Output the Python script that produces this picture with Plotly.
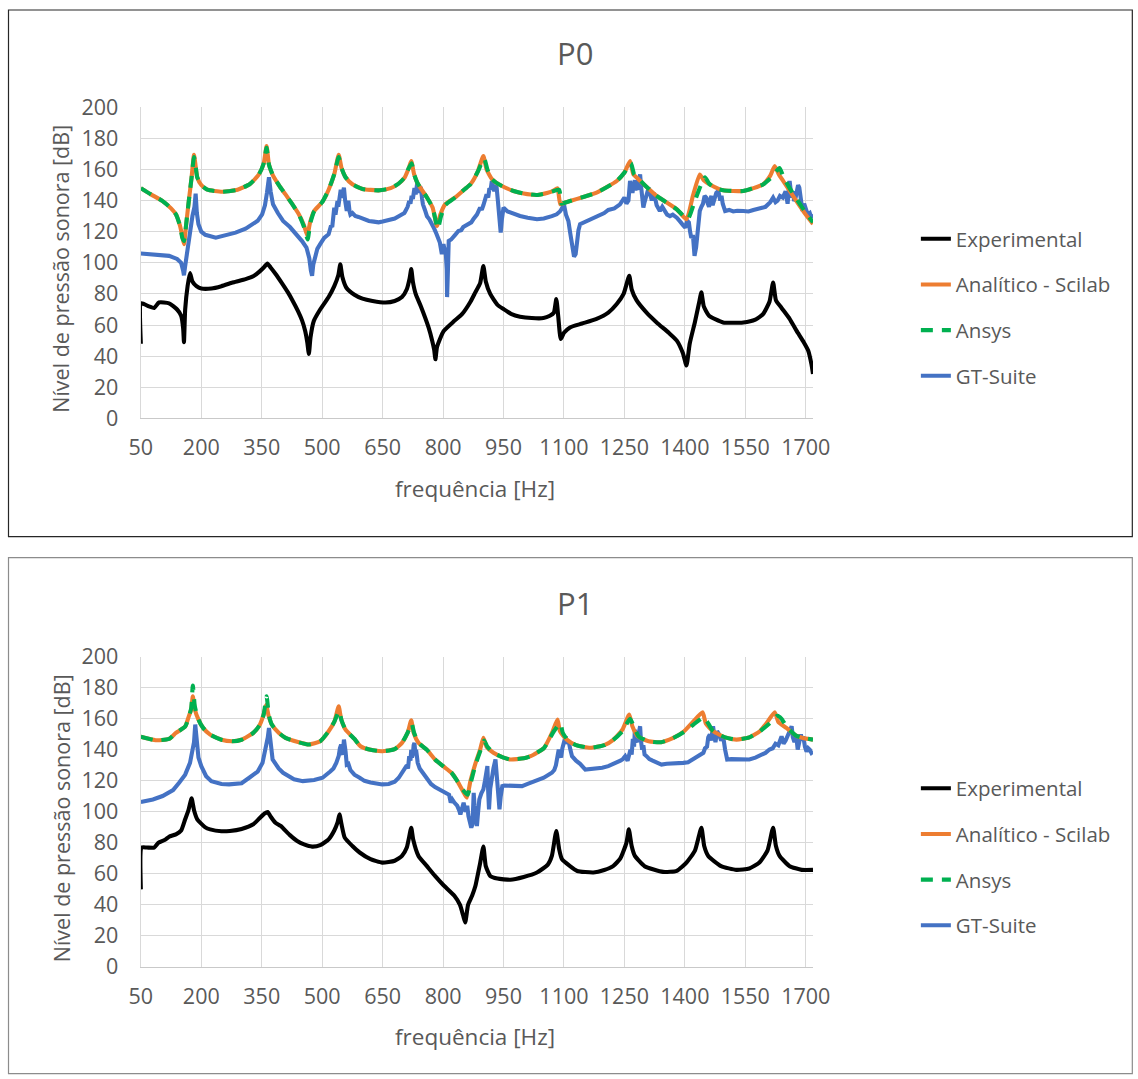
import plotly.graph_objects as go

# ---------------- DATA ----------------
x_tick_labels = [50, 200, 350, 500, 650, 800, 950, 1100, 1250, 1400, 1550, 1700]
y_tick_labels = [0, 20, 40, 60, 80, 100, 120, 140, 160, 180, 200]
series_names = ["Experimental", "Analítico - Scilab", "Ansys", "GT-Suite"]
panel_titles = ["P0", "P1"]

# (frequency [Hz], level [dB]) pairs
p0_experimental = [(50, 48), (51, 74), (70, 72), (83, 71), (95, 74.5), (120, 74), (140, 70), (150, 66), (155, 58), (157, 49), (160, 70), (166, 85), (172, 93.5), (178, 88), (188, 85), (200, 83.5), (225, 83.5), (250, 85), (280, 87.5), (310, 89.5), (330, 91.5), (345, 94.5), (355, 97), (364, 99.5), (372, 97), (384, 93), (400, 87), (415, 81), (426, 76), (440, 69), (450, 63), (458, 56), (463, 49), (467, 41.5), (471, 52), (479, 62.5), (495, 70), (516, 78), (530, 85), (540, 92), (545, 99), (550, 91), (560, 84), (580, 79.5), (600, 77), (625, 75.5), (657, 74.5), (680, 75.5), (698, 78), (710, 83), (717, 90), (721, 96), (725, 88), (732, 80), (745, 72), (764, 58.5), (773, 50), (778, 44), (781, 38), (785, 46), (801, 56), (825, 62), (847, 67), (868, 75), (880, 81), (892, 87), (900, 98), (906, 88), (917, 80), (935, 73), (950, 70.3), (970, 67), (991, 65.4), (1020, 64.5), (1049, 64.5), (1065, 66), (1075, 68), (1081, 76.7), (1086, 65), (1092, 51), (1100, 55), (1115, 58.5), (1145, 61), (1181, 64), (1210, 68), (1231, 73.5), (1248, 80), (1262, 91.7), (1268, 83), (1280, 76), (1305, 68), (1330, 61.7), (1360, 55), (1380, 50), (1395, 42), (1404, 34), (1412, 48), (1425, 62), (1435, 74), (1441, 81), (1447, 72), (1460, 66), (1495, 61.7), (1545, 61.7), (1575, 63.5), (1594, 67), (1610, 75), (1619, 87.4), (1626, 76), (1640, 71), (1660, 64), (1677, 56.4), (1695, 49), (1706, 43.6), (1714, 35), (1718, 28.6)]

p0_scilab = [(50, 148), (75, 144), (104, 139.7), (125, 135), (137, 131.2), (147, 124), (153, 117), (157, 112), (163, 126), (170, 142), (176, 155), (182, 169.5), (186, 162), (190, 155), (200, 150), (215, 147), (252, 145.7), (290, 147), (320, 150.5), (343, 156.8), (355, 164), (362, 175), (368, 163), (378, 156), (395, 149), (409, 144), (425, 138), (442, 131.2), (455, 124), (463, 117.5), (470, 126), (480, 133.3), (500, 139), (516, 147), (530, 157), (541, 169.5), (548, 161), (558, 155), (575, 150.5), (600, 147.5), (640, 146.6), (670, 148), (690, 151), (705, 155), (715, 161), (721, 165.4), (728, 157), (737, 151), (760, 142), (774, 135.5), (785, 123.7), (793, 131), (805, 137.6), (830, 142), (852, 147), (868, 150.5), (885, 158), (900, 168.6), (908, 160), (922, 153.6), (945, 149.5), (975, 146.2), (1000, 144.5), (1033, 143.6), (1060, 145), (1073, 146.2), (1084, 147.9), (1091, 137.6), (1100, 138.5), (1115, 139.7), (1150, 142.5), (1181, 145.1), (1231, 152.6), (1250, 158), (1264, 165.4), (1272, 157), (1281, 154.7), (1300, 150), (1330, 143), (1380, 134.4), (1404, 128), (1420, 143), (1437, 156.8), (1447, 153), (1462, 150.4), (1495, 146.6), (1545, 146.2), (1594, 150.4), (1612, 156), (1623, 162.2), (1633, 157), (1644, 152.6), (1677, 139.7), (1700, 131), (1718, 125)]

p0_ansys = [(50, 148), (75, 144), (104, 139.7), (125, 135), (137, 131.2), (147, 124), (153, 116), (157, 114), (163, 126), (170, 142), (176, 155), (182, 168), (186, 162), (190, 155), (200, 150), (215, 147), (252, 145.7), (290, 147), (320, 150.5), (343, 156.8), (355, 164), (362, 174), (368, 163), (378, 156), (395, 149), (409, 144), (425, 138), (442, 131.2), (455, 123), (464, 115), (470, 125), (480, 133), (500, 139), (516, 147), (530, 157), (541, 168), (548, 161), (558, 155), (575, 150.5), (600, 147.5), (640, 146.6), (670, 148), (690, 151), (705, 155), (715, 161), (722, 164), (728, 157), (737, 151), (760, 142), (774, 135.5), (787, 122), (795, 130), (805, 137), (830, 142), (852, 147), (868, 150.5), (885, 158), (902, 167), (910, 160), (922, 153.6), (945, 149.5), (975, 146.2), (1000, 144.5), (1033, 143.6), (1060, 145), (1073, 146), (1088, 147), (1094, 138), (1100, 138.5), (1115, 139.7), (1150, 142.5), (1181, 145.1), (1231, 152.6), (1250, 158), (1266, 164), (1274, 157), (1283, 154.7), (1300, 150), (1330, 143), (1380, 134.4), (1407, 128), (1425, 140), (1440, 150), (1450, 155), (1460, 151), (1475, 148), (1495, 146.6), (1545, 146.2), (1594, 150.4), (1615, 155), (1635, 161), (1645, 155), (1660, 148), (1690, 136), (1718, 126)]

p0_gtsuite = [(50, 106), (80, 105.5), (120, 104.5), (140, 102.5), (150, 100), (155, 95), (157, 92), (160, 98), (165, 108), (172, 118), (178, 130), (183, 136), (186, 144.5), (189, 132), (193, 124.8), (200, 120), (210, 118), (236, 116.2), (260, 117.5), (285, 119.4), (310, 122), (327, 124.8), (340, 127), (351, 131.2), (358, 137), (363, 145), (368, 155), (372, 146), (378, 137.6), (390, 132), (403, 126.9), (420, 123), (436, 118.4), (450, 114), (461, 109.8), (468, 103), (472, 95), (475, 91.7), (478, 99), (482, 104), (488, 109), (495, 112), (505, 116), (516, 118.4), (520, 121), (522, 124), (525, 123), (527, 130), (530, 135.5), (533, 131), (535, 137), (538, 139.7), (540, 136), (542, 141), (544, 145), (546, 147), (548, 143), (550, 142), (552, 146), (554, 148.3), (557, 140), (559, 137), (561, 133.3), (563, 137), (565, 140), (568, 133), (570, 131), (575, 132), (582, 130.1), (590, 129.5), (600, 128.5), (608, 127.5), (616, 126.9), (628, 126.5), (640, 126), (650, 126.5), (660, 127), (670, 128), (680, 128.5), (690, 130), (698, 131.2), (704, 132), (708, 134), (712, 136), (716, 139.7), (719, 138), (722, 143), (725, 141), (729, 148), (732, 144), (736, 151.5), (738, 147), (740, 145), (743, 149), (745, 148), (748, 141), (750, 137.6), (755, 134), (760, 130), (766, 128), (773, 125), (778, 122), (784, 118.4), (788, 116), (792, 113), (797, 105.6), (801, 112), (804, 108), (806, 109.8), (809, 96), (810, 78), (812, 95), (814, 114.1), (820, 115), (825, 117), (830, 118), (838, 120.5), (845, 121), (850, 123), (856, 124), (863, 124.8), (870, 126), (875, 128), (884, 131), (892, 135.5), (896, 134), (900, 137), (904, 141), (908, 144), (912, 142), (915, 148), (918, 147), (921, 152.6), (924, 149), (927, 146), (930, 150), (933, 148.3), (936, 140), (940, 130), (943, 119.4), (946, 128), (950, 135.5), (960, 133), (970, 132), (980, 131), (991, 130.1), (1010, 129), (1033, 128), (1050, 128.5), (1060, 129), (1070, 130), (1082, 131.2), (1086, 132), (1090, 133), (1095, 135), (1100, 137.6), (1105, 131), (1111, 126.9), (1115, 120), (1118, 115), (1122, 108), (1125, 104), (1129, 105.6), (1133, 115), (1136, 121), (1140, 124.8), (1150, 126), (1160, 127), (1175, 129), (1189, 131.2), (1200, 132), (1210, 134), (1225, 135), (1239, 137.6), (1245, 140), (1250, 142), (1255, 138), (1260, 140), (1264, 152.6), (1267, 146), (1270, 145), (1273, 150), (1276, 153), (1279, 148), (1282, 147), (1285, 151), (1289, 156.8), (1291, 150), (1293, 146), (1297, 135.5), (1300, 139), (1303, 142), (1306, 146), (1310, 148.3), (1314, 144), (1318, 140), (1322, 145), (1325, 143), (1330, 137), (1338, 133.3), (1344, 136), (1350, 134), (1356, 131), (1363, 130), (1370, 131), (1380, 129), (1385, 127), (1390, 126), (1396, 124), (1401, 122.6), (1406, 127), (1410, 126), (1413, 120), (1416, 116), (1420, 118), (1424, 104.5), (1428, 110), (1432, 124), (1437, 133.3), (1441, 136), (1445, 138), (1449, 143), (1453, 141.9), (1457, 138), (1460, 136), (1463, 141), (1466, 143), (1469, 137), (1472, 139.7), (1475, 144), (1478, 145), (1483, 146.2), (1486, 141), (1488, 140), (1491, 143), (1494, 138), (1500, 133.3), (1510, 134), (1520, 133), (1530, 133.5), (1545, 133.3), (1558, 133), (1570, 134), (1582, 134.5), (1594, 135.5), (1600, 136), (1605, 137), (1612, 139), (1619, 141.9), (1625, 139), (1630, 140), (1636, 143), (1643, 141.9), (1647, 144), (1650, 146), (1653, 141), (1655, 138), (1658, 147), (1660, 152.6), (1663, 146), (1666, 142), (1669, 146), (1671, 139.7), (1675, 142), (1678, 145), (1681, 150), (1684, 148.3), (1687, 144), (1689, 140), (1692, 133.3), (1696, 138), (1700, 134), (1705, 131), (1710, 132), (1714, 129), (1718, 131.2)]

p1_experimental = [(50, 50), (52, 77), (65, 77), (83, 77), (90, 79), (94, 80.2), (110, 82), (120, 84), (137, 85.5), (150, 88), (160, 95.2), (168, 101), (176, 108.7), (182, 101), (190, 95.2), (210, 90), (222, 88.7), (250, 87.5), (271, 87.7), (300, 89), (329, 92), (345, 96), (357, 99), (365, 99.9), (372, 97), (384, 93), (397, 90.9), (420, 85), (438, 81.2), (455, 79), (475, 77.6), (495, 78.5), (516, 82.3), (530, 88), (538, 93), (543, 98.4), (548, 92), (556, 83.4), (575, 78), (593, 73.8), (620, 69.5), (649, 67.3), (680, 68.5), (698, 71.6), (710, 77), (716, 84), (721, 89.8), (726, 82), (739, 71.6), (760, 65), (780, 58.7), (800, 53), (828, 45.9), (842, 40), (850, 33), (855, 28.7), (862, 40), (872, 45.9), (880, 52), (892, 67), (900, 77.6), (906, 65), (917, 58.7), (935, 57), (967, 56.2), (1000, 58), (1033, 60.9), (1060, 66), (1070, 71.6), (1081, 87.7), (1088, 76), (1095, 69.5), (1115, 65), (1133, 61.9), (1173, 60.9), (1200, 62.5), (1222, 65), (1240, 70), (1255, 80), (1261, 88.7), (1268, 78), (1276, 71.6), (1300, 65), (1346, 61.3), (1380, 62), (1404, 67.3), (1425, 75), (1441, 89.8), (1448, 78), (1458, 71.6), (1490, 65), (1528, 62.6), (1560, 63.5), (1585, 67.3), (1605, 75), (1619, 89.8), (1626, 78), (1635, 71.6), (1660, 65), (1690, 62.6), (1718, 62.6)]

p1_scilab = [(50, 148.4), (87, 146.2), (120, 147), (137, 150.9), (160, 155), (169, 161.6), (175, 166), (179, 174.5), (184, 166), (193, 159.5), (205, 154), (222, 149.8), (250, 146.5), (277, 145.5), (300, 146.5), (329, 150.9), (345, 156), (355, 163), (361, 169), (367, 162), (375, 156.3), (392, 151), (409, 147.7), (440, 145), (467, 143.4), (495, 145.5), (516, 152), (530, 158), (541, 168), (547, 160), (558, 153), (580, 147), (595, 142.3), (620, 140), (649, 139.1), (680, 140.5), (698, 144.5), (712, 151), (721, 159), (727, 151), (739, 144.5), (760, 140), (780, 133.8), (800, 129.5), (821, 125.2), (835, 120), (850, 113), (859, 109.1), (868, 120), (880, 131), (892, 140.2), (900, 147.7), (908, 142), (925, 138.1), (950, 135), (967, 133.8), (1000, 134.5), (1017, 135.9), (1050, 141), (1058, 144.5), (1072, 152), (1084, 159.5), (1090, 152), (1107, 146.6), (1130, 143), (1165, 141.3), (1200, 143), (1223, 146.6), (1245, 153), (1262, 162.7), (1270, 155), (1283, 148.7), (1310, 145.5), (1341, 144.9), (1370, 147.5), (1398, 152), (1420, 158), (1444, 164.2), (1452, 157), (1470, 152), (1500, 148), (1528, 146.6), (1560, 148), (1586, 152), (1605, 158), (1623, 164.2), (1632, 158), (1652, 154.1), (1677, 149), (1693, 147.7), (1718, 146.6)]

p1_ansys = [(50, 148.4), (87, 146.2), (120, 147), (137, 150.9), (160, 155), (169, 161), (175, 167), (179, 181.5), (184, 168), (193, 159.5), (205, 154), (222, 149.8), (250, 146.5), (277, 145.5), (300, 146.5), (329, 150.9), (345, 156), (355, 163), (362, 174.5), (368, 162), (375, 156.3), (392, 151), (409, 147.7), (440, 145), (467, 143.4), (495, 145.5), (516, 152), (530, 158), (542, 165), (548, 159), (558, 153), (580, 147), (595, 142.3), (620, 140), (649, 139.1), (680, 140.5), (698, 144.5), (712, 151), (722, 157), (728, 151), (739, 144.5), (760, 140), (780, 133.8), (800, 129.5), (821, 125.2), (835, 120), (850, 114), (861, 111), (870, 120), (880, 130), (892, 139), (902, 146), (910, 142), (925, 138.1), (950, 135), (967, 133.8), (1000, 134.5), (1017, 135.9), (1050, 141), (1060, 145), (1075, 152), (1091, 157), (1097, 151), (1110, 146), (1130, 143), (1165, 141.3), (1200, 143), (1223, 146.6), (1245, 152), (1264, 160), (1272, 156), (1285, 148.7), (1310, 145.5), (1341, 144.9), (1370, 147.5), (1398, 151.5), (1420, 156), (1447, 161), (1458, 157), (1470, 152), (1500, 148), (1528, 146.6), (1560, 148), (1586, 152), (1610, 157), (1630, 162), (1640, 160), (1655, 154), (1677, 149), (1693, 147.7), (1718, 146.6)]

p1_gtsuite = [(50, 106.3), (80, 108), (104, 110.2), (130, 114), (145, 118.8), (160, 124), (172, 131.6), (178, 138), (182, 145), (185, 156.3), (188, 145), (193, 135), (200, 129.5), (212, 123), (225, 119.8), (250, 118), (269, 117.7), (300, 118.5), (319, 122), (340, 126), (352, 131.6), (360, 140), (365, 148), (368, 154.1), (372, 146), (377, 133.8), (392, 128), (403, 125.2), (430, 121), (452, 119.8), (480, 120.5), (501, 122), (520, 126), (528, 128), (535, 131.6), (538, 134), (541, 136), (544, 141), (547, 143.4), (549, 138), (551, 137), (554, 146.6), (556, 144), (558, 139), (561, 130.5), (565, 131), (570, 127), (580, 124), (593, 122), (605, 120), (620, 119), (635, 118), (649, 117.7), (665, 118), (680, 119.5), (690, 122), (698, 125.2), (704, 127), (710, 130), (713, 128), (716, 135.9), (719, 133), (721, 140), (723, 135), (725, 137), (727, 143), (729, 144.5), (731, 138), (733, 140), (735, 136), (737, 131.6), (742, 128), (750, 125), (760, 121), (770, 118), (780, 116), (790, 114.5), (800, 113), (808, 112), (815, 111), (819, 106), (823, 108), (828, 106), (835, 104), (840, 101), (843, 98.4), (848, 103), (851, 105.9), (856, 100), (860, 104), (863, 97.3), (866, 93), (870, 89.8), (873, 92), (876, 112.3), (878, 104), (880, 100), (884, 90.9), (887, 100), (890, 108), (895, 112), (900, 114.5), (904, 120), (907, 126), (910, 129.5), (912, 113), (914, 101.6), (917, 115), (921, 124), (925, 128), (930, 133.8), (933, 125), (937, 115), (940, 101.6), (943, 110), (947, 116.6), (952, 117), (960, 117), (975, 116.5), (985, 117), (996, 116.6), (1010, 118), (1030, 120), (1050, 122), (1070, 125.2), (1076, 127), (1080, 130), (1084, 136), (1087, 140.2), (1090, 137), (1093, 135), (1096, 141), (1100, 145), (1104, 148.7), (1108, 144), (1112, 145), (1116, 140), (1120, 135.9), (1130, 133), (1140, 131), (1153, 127.3), (1165, 127.5), (1180, 128), (1195, 128.5), (1210, 129.5), (1225, 131), (1240, 133), (1246, 134), (1252, 135.9), (1258, 133), (1265, 140), (1268, 137), (1271, 147), (1274, 142), (1276, 153), (1278, 146), (1281, 145), (1285, 150), (1289, 155.2), (1291, 146), (1294, 140), (1297, 143), (1300, 137), (1305, 135.9), (1312, 134), (1320, 133), (1330, 132), (1342, 130.5), (1355, 131), (1370, 131), (1383, 131.5), (1396, 131.6), (1408, 132), (1420, 134), (1433, 136), (1446, 138.1), (1450, 141), (1455, 142), (1458, 148), (1462, 150), (1465, 146), (1470, 155.2), (1473, 149), (1476, 145), (1480, 152), (1485, 150), (1490, 146), (1495, 148.7), (1500, 140), (1505, 133.8), (1515, 134), (1530, 133.8), (1545, 133.5), (1560, 133.8), (1575, 135), (1590, 137), (1600, 138), (1610, 140.2), (1618, 141), (1625, 144), (1632, 143), (1640, 148.7), (1645, 144), (1650, 146), (1655, 150), (1660, 152), (1665, 155.2), (1668, 148), (1672, 145), (1676, 150), (1680, 140.2), (1684, 146), (1688, 150), (1691, 146), (1694, 148.7), (1698, 142), (1702, 138.8), (1706, 141), (1710, 140), (1714, 138), (1718, 138.8)]

# ---------------- STYLE ----------------
# Observed mapping from figure pixels to the photographed picture:
# picture = offset + Z * figure_px  (Z ~ 0.976)
Z = 0.976
OX, OY = 11.0, 13.5
W, H = 1150, 1090
FONT = "Open Sans"
TXT = "#595959"
GRID = "#D9D9D9"
colors = {"Experimental": "#000000", "Analítico - Scilab": "#ED7D31",
          "Ansys": "#00B050", "GT-Suite": "#4472C4"}


def px_x(p):
    return ((p - OX) / Z) / W


def px_y(p):
    return 1 - ((p - OY) / Z) / H


fig = go.Figure()

panels = [
    dict(xa="x", ya="y", legend="legend",
         data=[p0_experimental, p0_scilab, p0_ansys, p0_gtsuite]),
    dict(xa="x2", ya="y2", legend="legend2",
         data=[p1_experimental, p1_scilab, p1_ansys, p1_gtsuite]),
]

draw_order = [0, 3, 1, 2]
for pi, p in enumerate(panels):
    traces = {}
    for si, name in enumerate(series_names):
        pts = p["data"][si]
        f = [a for a, _ in pts]
        db = [b for _, b in pts]
        line = dict(color=colors[name], width=4.1)
        if name != "GT-Suite":
            line["shape"] = "spline"
            line["smoothing"] = 0.5
        if name == "Ansys":
            line["dash"] = "12px,9px"
        traces[si] = go.Scatter(x=f, y=db, mode="lines", name=name, line=line,
                                xaxis=p["xa"], yaxis=p["ya"], legend=p["legend"],
                                legendgroup=f"{pi}-{si}", legendrank=si + 1)
    for si in draw_order:
        fig.add_trace(traces[si])

tickfont = dict(family=FONT, size=21.5, color=TXT)
x_common = dict(showgrid=True, gridcolor=GRID, gridwidth=1.3, zeroline=False,
                tickfont=tickfont, ticks="", ticklabelstandoff=10,
                range=[50, 1718], tickvals=x_tick_labels,
                showline=True, linecolor="#C9C9C9", linewidth=1.3)
y_common = dict(showgrid=True, gridcolor=GRID, gridwidth=1.3, zeroline=False,
                tickfont=tickfont, ticks="", ticklabelstandoff=17,
                range=[0, 200], tickvals=y_tick_labels,
                showline=True, linecolor=GRID, linewidth=1.3)

x_dom = [px_x(140), px_x(813)]
top_dom = [px_y(418), px_y(106)]
bot_dom = [px_y(968), px_y(657)]

legend_style = dict(xanchor="left", yanchor="top",
                    font=dict(family=FONT, size=20.5, color=TXT), tracegroupgap=16,
                    bgcolor="rgba(0,0,0,0)")

fig.update_layout(
    width=W, height=H, margin=dict(l=0, r=0, t=0, b=0),
    paper_bgcolor="white", plot_bgcolor="white",
    font=dict(family=FONT, color=TXT),
    xaxis=dict(domain=x_dom, anchor="y", **x_common),
    yaxis=dict(domain=top_dom, anchor="x", **y_common),
    xaxis2=dict(domain=x_dom, anchor="y2", **x_common),
    yaxis2=dict(domain=bot_dom, anchor="x2", **y_common),
    legend=dict(x=px_x(916), y=px_y(218), **legend_style),
    legend2=dict(x=px_x(916), y=px_y(769), **legend_style),
)

annotations = []
for title, ty, ylab_y, xlab_y in [(panel_titles[0], 52, 268, 488), (panel_titles[1], 603, 819, 1038)]:
    annotations.append(dict(text=title, x=px_x(575), y=px_y(ty), xref="paper", yref="paper",
                            showarrow=False, font=dict(family=FONT, size=31, color=TXT),
                            xanchor="center", yanchor="middle"))
    annotations.append(dict(text="Nível de pressão sonora [dB]", x=px_x(60), y=px_y(ylab_y),
                            xref="paper", yref="paper", showarrow=False, textangle=-90,
                            font=dict(family=FONT, size=21.5, color=TXT),
                            xanchor="center", yanchor="middle"))
    annotations.append(dict(text="frequência [Hz]", x=px_x(475), y=px_y(xlab_y),
                            xref="paper", yref="paper", showarrow=False,
                            font=dict(family=FONT, size=22.5, color=TXT),
                            xanchor="center", yanchor="middle"))
fig.update_layout(annotations=annotations)

right_edge = min(px_x(1137), 1149.3 / W)
fig.update_layout(shapes=[
    dict(type="rect", xref="paper", yref="paper", x0=px_x(7.5), x1=right_edge, y0=px_y(536.5), y1=px_y(8.5),
         line=dict(color="#262626", width=1.2), fillcolor="rgba(0,0,0,0)", layer="below"),
    dict(type="rect", xref="paper", yref="paper", x0=px_x(7.5), x1=right_edge, y0=px_y(1075), y1=px_y(557.5),
         line=dict(color="#8C8C8C", width=1.2), fillcolor="rgba(0,0,0,0)", layer="below"),
])

fig.write_html("out.html")
